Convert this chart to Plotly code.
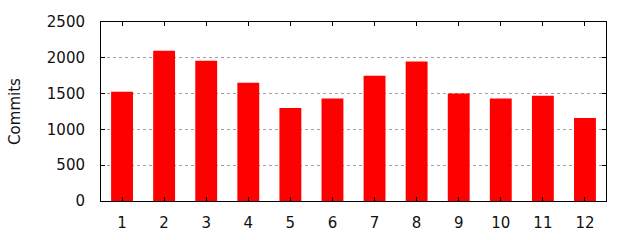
import plotly.graph_objects as go

months = [1, 2, 3, 4, 5, 6, 7, 8, 9, 10, 11, 12]
commits = [1525, 2100, 1960, 1650, 1300, 1430, 1750, 1950, 1500, 1430, 1470, 1160]
y_ticks = [0, 500, 1000, 1500, 2000, 2500]

fig = go.Figure()
fig.add_trace(go.Bar(x=months, y=commits, marker=dict(color="#ff0000", line=dict(width=0)), width=0.52))

font = dict(family="DejaVu Sans", size=15, color="#111111")
fig.update_layout(
    width=640, height=240,
    margin=dict(l=101, r=34, t=22, b=39, autoexpand=False),
    paper_bgcolor="white", plot_bgcolor="white",
    showlegend=False,
    font=font,
)
fig.update_xaxes(
    range=[0.5, 12.5], tickvals=months, ticktext=[str(m) for m in months],
    showgrid=False, zeroline=False, automargin=False,
    showline=True, linecolor="black", linewidth=1, mirror="ticks",
    ticks="inside", ticklen=4, tickcolor="black",
    ticklabelstandoff=8, tickfont=font,
)
fig.update_yaxes(
    range=[0, 2500], tickvals=y_ticks,
    showgrid=True, gridcolor="#a0a0a0", griddash="dot", gridwidth=1,
    zeroline=False, automargin=False,
    showline=True, linecolor="black", linewidth=1, mirror="ticks",
    ticks="inside", ticklen=4, tickcolor="black",
    ticklabelstandoff=12, tickfont=font,
    title=dict(text="Commits", standoff=22, font=font),
)
fig.write_html("out.html")
